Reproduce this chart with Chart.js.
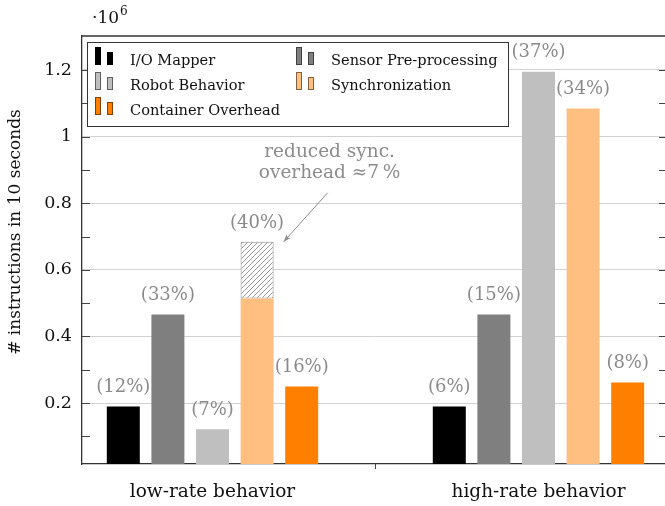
<!DOCTYPE html>
<html>
<head>
<meta charset="utf-8">
<script src="https://cdn.jsdelivr.net/npm/chart.js@4/dist/chart.umd.min.js"></script>
<style>
  html, body { margin: 0; padding: 0; background: #fff; overflow: hidden; }
  #wrap { width: 668px; height: 506px; }
</style>
</head>
<body>
<div id="wrap"><canvas id="c" width="668" height="506"></canvas></div>
<script>
// Instruction counts per component, for the two behaviour rates
const categories = ['low-rate behavior', 'high-rate behavior'];
const groupPos = [0, 1];

const seriesNames = ['I/O Mapper', 'Sensor Pre-processing', 'Robot Behavior', 'Synchronization', 'Container Overhead'];
const ioMapper          = [190000, 190000];
const sensorPre         = [466000, 466000];
const robotBehavior     = [121000, 1195000];
const synchronization   = [514000, 1084000];
const syncSaved         = [170000, null];   // hatched part of the sync bar
const containerOverhead = [250000, 262000];

// share labels printed above the bars
const ioShare        = ['(12%)', '(6%)'];
const sensorShare    = ['(33%)', '(15%)'];
const robotShare     = ['(7%)',  '(37%)'];
const syncShare      = ['(40%)', '(34%)'];
const containerShare = ['(16%)', '(8%)'];

// y axis ticks, in millions of instructions
const yMajorTicks  = [0.2, 0.4, 0.6, 0.8, 1, 1.2];
const yMajorLabels = ['0.2', '0.4', '0.6', '0.8', '1', '1.2'];
const yMinorTicks  = [0.1, 0.3, 0.5, 0.7, 0.9, 1.1];

const annotationLines = ['reduced sync.', 'overhead \u22487\u2009%'];

const colors = ['#000000', '#7f7f7f', '#bfbfbf', '#ffbf80', '#ff8000'];
const edgeColors = ['#000000', '#404040', '#606060', '#80603f', '#804000'];
const SERIF = '"DejaVu Serif", serif';
const labelGray = '#8a8a8a';

function hatchPattern() {
  const c = document.createElement('canvas');
  c.width = 5; c.height = 5;
  const g = c.getContext('2d');
  g.fillStyle = '#ffffff';
  g.fillRect(0, 0, 5, 5);
  g.strokeStyle = '#8c8c8c';
  g.lineWidth = 0.9;
  g.beginPath();
  g.moveTo(-1, 6); g.lineTo(6, -1);
  g.moveTo(-1, 1); g.lineTo(1, -1);
  g.moveTo(4, 6); g.lineTo(6, 4);
  g.stroke();
  return g.createPattern(c, 'repeat');
}

const toPoints = arr => arr.map((v, i) => ({ x: groupPos[i], y: v }));

const datasets = [
  { label: seriesNames[0], data: toPoints(ioMapper),          backgroundColor: colors[0], stack: 'io' },
  { label: seriesNames[1], data: toPoints(sensorPre),         backgroundColor: colors[1], stack: 'sensor' },
  { label: seriesNames[2], data: toPoints(robotBehavior),     backgroundColor: colors[2], stack: 'robot' },
  { label: seriesNames[3], data: toPoints(synchronization),   backgroundColor: colors[3], stack: 'sync' },
  { label: 'saved', data: toPoints(syncSaved), backgroundColor: hatchPattern(), borderColor: '#8c8c8c',
    borderWidth: 1, borderSkipped: false, stack: 'sync' },
  { label: seriesNames[4], data: toPoints(containerOverhead), backgroundColor: colors[4], stack: 'container' }
];
const mainSets = [0, 1, 2, 3, 5];
const shares = [ioShare, sensorShare, robotShare, syncShare, containerShare];

const isMajor = v => yMajorTicks.some(t => Math.abs(t * 1e6 - v) < 1);

const decorations = {
  id: 'decorations',
  afterDatasetsDraw(chart) {
    const { ctx, chartArea: a, scales } = chart;
    ctx.save();
    // inward tick marks on both vertical axes
    ctx.strokeStyle = '#444';
    ctx.lineWidth = 1;
    ctx.beginPath();
    [...yMinorTicks, ...yMajorTicks].forEach(t => {
      const y = Math.round(scales.y.getPixelForValue(t * 1e6)) + 0.5;
      ctx.moveTo(a.left, y); ctx.lineTo(a.left + 8, y);
      ctx.moveTo(a.right, y); ctx.lineTo(a.right - 8, y);
    });
    // tick between the two groups
    const xm = Math.round(scales.x.getPixelForValue((groupPos[0] + groupPos[1]) / 2)) + 0.5;
    ctx.moveTo(xm, a.bottom); ctx.lineTo(xm, a.bottom + 5);
    ctx.stroke();

    // top and right frame
    ctx.strokeStyle = '#333';
    ctx.lineWidth = 1.3;
    ctx.beginPath();
    ctx.moveTo(a.left, a.top); ctx.lineTo(a.right, a.top); ctx.lineTo(a.right, a.bottom);
    ctx.stroke();

    // share labels
    ctx.font = '18px ' + SERIF;
    ctx.fillStyle = labelGray;
    ctx.textAlign = 'center';
    ctx.textBaseline = 'middle';
    const saved = chart.getDatasetMeta(4).data;
    mainSets.forEach((di, k) => {
      chart.getDatasetMeta(di).data.forEach((el, i) => {
        let top = el.y;
        if (di === 3 && syncSaved[i] != null) top = saved[i].y;
        ctx.fillText(shares[k][i], el.x, top - 19);
      });
    });

    // annotation arrow pointing at the hatched segment
    const h = saved[0];
    const tipX = h.x + h.width / 2 + 10, tipY = h.y;
    const sx = tipX + 44, sy = tipY - 49;
    ctx.strokeStyle = '#8c8c8c';
    ctx.fillStyle = '#8c8c8c';
    ctx.lineWidth = 1;
    ctx.beginPath(); ctx.moveTo(sx, sy); ctx.lineTo(tipX, tipY); ctx.stroke();
    const ang = Math.atan2(tipY - sy, tipX - sx);
    ctx.beginPath();
    ctx.moveTo(tipX, tipY);
    ctx.lineTo(tipX - 8 * Math.cos(ang - 0.35), tipY - 8 * Math.sin(ang - 0.35));
    ctx.lineTo(tipX - 6 * Math.cos(ang), tipY - 6 * Math.sin(ang));
    ctx.lineTo(tipX - 8 * Math.cos(ang + 0.35), tipY - 8 * Math.sin(ang + 0.35));
    ctx.closePath(); ctx.fill();
    ctx.font = '18.5px ' + SERIF;
    ctx.fillText(annotationLines[0], tipX + 46, tipY - 90);
    ctx.fillText(annotationLines[1], tipX + 46, tipY - 69);
    ctx.restore();
  },
  afterDraw(chart) {
    const { ctx, chartArea: a } = chart;
    ctx.save();
    // y axis title
    ctx.font = '17px ' + SERIF;
    ctx.fillStyle = '#111';
    ctx.textAlign = 'center';
    ctx.textBaseline = 'middle';
    ctx.translate(16, (a.top + a.bottom) / 2 - 18);
    ctx.rotate(-Math.PI / 2);
    ctx.fillText('# instructions in 10 seconds', 0, 0);
    ctx.restore();

    // scale factor above the y axis
    ctx.save();
    ctx.fillStyle = '#111';
    ctx.textBaseline = 'alphabetic';
    ctx.textAlign = 'left';
    ctx.font = '17px ' + SERIF;
    ctx.fillText('\u00b710', a.left + 10, a.top - 13);
    const w = ctx.measureText('\u00b710').width;
    ctx.font = '12px ' + SERIF;
    ctx.fillText('6', a.left + 10 + w + 1, a.top - 21);
    ctx.restore();

    // legend box, two columns
    ctx.save();
    const bx = a.left + 5, by = a.top + 6, bw = 421, bh = 84;
    ctx.fillStyle = '#fff';
    ctx.fillRect(bx, by, bw, bh);
    ctx.strokeStyle = '#333';
    ctx.lineWidth = 1;
    ctx.strokeRect(bx + 0.5, by + 0.5, bw, bh);
    ctx.font = '14.6px ' + SERIF;
    ctx.textBaseline = 'alphabetic';
    ctx.textAlign = 'left';
    seriesNames.forEach((name, i) => {
      const col = i % 2, row = Math.floor(i / 2);
      const ix = bx + 8 + col * 201;
      const base = by + 23 + row * 25;
      ctx.fillStyle = colors[i];
      ctx.strokeStyle = edgeColors[i];
      ctx.fillRect(ix, base - 18, 6, 18);
      ctx.strokeRect(ix + 0.5, base - 17.5, 5, 17);
      ctx.fillRect(ix + 12, base - 13, 6, 13);
      ctx.strokeRect(ix + 12.5, base - 12.5, 5, 12);
      ctx.fillStyle = '#111';
      ctx.fillText(name, ix + 35, base);
    });
    ctx.restore();
  }
};

new Chart(document.getElementById('c'), {
  type: 'bar',
  data: { datasets },
  options: {
    responsive: false,
    animation: false,
    events: [],
    categoryPercentage: 0.684,
    barPercentage: 0.74,
    layout: { padding: { top: 36, right: 1, left: 0, bottom: 0 } },
    plugins: { legend: { display: false }, tooltip: { enabled: false } },
    scales: {
      x: {
        type: 'linear',
        min: -0.4003,
        max: 1.3942,
        offset: false,
        stacked: true,
        afterBuildTicks: s => { s.ticks = groupPos.map(v => ({ value: v })); },
        ticks: {
          autoSkip: false,
          maxRotation: 0,
          padding: 17,
          color: '#111',
          font: { family: SERIF, size: 18.5 },
          callback: v => { const i = groupPos.indexOf(v); return i >= 0 ? categories[i] : ''; }
        },
        grid: { display: false, drawTicks: false },
        border: { display: true, color: '#333', width: 1.3 },
        afterFit: s => { s.height = 42; }
      },
      y: {
        min: 17000,
        max: 1302000,
        stacked: true,
        afterBuildTicks: s => {
          s.ticks = [...yMinorTicks, ...yMajorTicks].sort((p, q) => p - q).map(v => ({ value: v * 1e6 }));
        },
        ticks: {
          autoSkip: false,
          padding: 10,
          color: '#111',
          font: { family: SERIF, size: 17.5 },
          callback: v => {
            const i = yMajorTicks.findIndex(t => Math.abs(t * 1e6 - v) < 1);
            return i >= 0 ? yMajorLabels[i] : '';
          }
        },
        grid: {
          drawTicks: false,
          lineWidth: 1,
          color: c => (c.tick && isMajor(c.tick.value)) ? '#d2d2d2' : 'rgba(0,0,0,0)'
        },
        border: { display: true, color: '#333', width: 1.3 },
        afterFit: s => { s.height = undefined; s.width = 82; }
      }
    }
  },
  plugins: [decorations]
});
</script>
</body>
</html>
